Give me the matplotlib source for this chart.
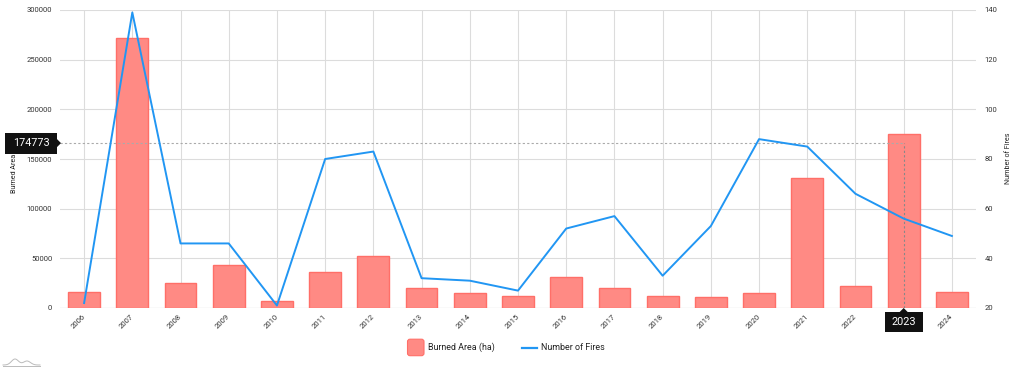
import matplotlib
matplotlib.use("Agg")
import matplotlib.pyplot as plt
import matplotlib.patches as mpatches
import numpy as np
from matplotlib.lines import Line2D

plt.rcParams['font.family'] = ['Roboto', 'DejaVu Sans']

years = ["2006", "2007", "2008", "2009", "2010", "2011", "2012", "2013", "2014", "2015",
         "2016", "2017", "2018", "2019", "2020", "2021", "2022", "2023", "2024"]
burned_area = [16400, 272000, 25200, 42800, 7000, 36000, 52300, 20100, 14800, 11800,
               31700, 20100, 12400, 11100, 15100, 130900, 22600, 174773, 16100]
num_fires = [22, 139, 46, 46, 21, 80, 83, 32, 31, 27,
             52, 57, 33, 53, 88, 85, 66, 56, 49]
cursor_value = 166000
cursor_label = "174773"
cursor_year = "2023"
series_labels = ["Burned Area (ha)", "Number of Fires"]

W, H = 1024, 372
fig = plt.figure(figsize=(W / 100, H / 100), dpi=100)
renderer = fig.canvas.get_renderer()


def fit_size(s, target_px):
    t = fig.text(0, 0, s, fontsize=10)
    w = t.get_window_extent(renderer).width
    t.remove()
    return 10 * target_px / w


fs_tick = fit_size("300000", 25.6)
fs_legend = fit_size(series_labels[0], 66.6)
fs_tip = fit_size(cursor_label, 36.7)
fs_title = fit_size(series_labels[1], 51)

PX = fig.dpi_scale_trans  # inches; 1 px = 0.01 in


def px(v):
    return v / 100.0


ax = fig.add_axes([60 / W, (H - 308) / H, 916 / W, 298 / H])
ax2 = ax.twinx()

x = np.arange(len(years))
grid_c = "#dcdcdc"
text_c = "#333333"
bar_c = "#ff8a84"
bar_e = "#ff6f68"
line_c = "#2196f3"

ax.bar(x, burned_area, width=0.66, color=bar_c, edgecolor=bar_e, linewidth=1.0, zorder=3)
ax.set_xlim(-0.5, len(years) - 0.5)
ax.set_ylim(0, 300000)
ax.set_yticks(np.arange(0, 300001, 50000))
ax.set_xticks(x)
ax.set_xticklabels(years, rotation=45, ha="right", va="center", rotation_mode="anchor")
ax.grid(True, axis="both", color=grid_c, linewidth=0.8, zorder=0)
ax.set_axisbelow(True)

ax2.plot(x, num_fires, color=line_c, linewidth=1.4, zorder=4)
ax2.set_ylim(20, 140)
ax2.set_yticks(np.arange(20, 141, 20))

for a in (ax, ax2):
    for s in a.spines.values():
        s.set_visible(False)
    a.tick_params(axis="both", length=0, labelsize=fs_tick, colors=text_c)
ax.tick_params(axis="y", pad=5.5)
ax.tick_params(axis="x", pad=5.5)
ax2.tick_params(axis="y", pad=6)
ax.axhline(0, color="#bbbbbb", linewidth=0.8, zorder=2)

# axis titles
fig.text(14.5 / W, (H - 166) / H, series_labels[0], rotation=90, ha="center", va="center",
         fontsize=fs_title, color="#222222")
fig.text(1009 / W, (H - 158) / H, series_labels[1], rotation=90, ha="center", va="center",
         fontsize=fs_title, color="#222222")

# cursor
xi = years.index(cursor_year)
ax.plot([-0.5, xi], [cursor_value, cursor_value], color="#aaaaaa", linestyle=(0, (2, 2)),
        linewidth=0.8, zorder=5)
ax.plot([xi, xi], [0, cursor_value], color="#888888", linestyle=(0, (2, 2)),
        linewidth=0.8, zorder=5)

# tooltip on value axis
cy = ax.transData.transform((0, cursor_value))[1]
fig.add_artist(mpatches.Rectangle((px(5), px(cy - 10.5)), px(52), px(21), transform=PX,
                                  facecolor="#111111", edgecolor="none", zorder=10))
fig.add_artist(mpatches.Polygon([(px(57), px(cy - 4)), (px(61), px(cy)), (px(57), px(cy + 4))],
                                closed=True, transform=PX, facecolor="#111111",
                                edgecolor="none", zorder=10))
fig.text(31 / W, cy / H, cursor_label, ha="center", va="center", fontsize=fs_tip,
         color="white", zorder=11)

# tooltip on category axis
cx = ax.transData.transform((xi, 0))[0]
fig.add_artist(mpatches.Rectangle((px(cx - 19), px(H - 332)), px(38), px(20), transform=PX,
                                  facecolor="#111111", edgecolor="none", zorder=10))
fig.add_artist(mpatches.Polygon([(px(cx - 4), px(H - 312)), (px(cx), px(H - 308)),
                                 (px(cx + 4), px(H - 312))], closed=True, transform=PX,
                                facecolor="#111111", edgecolor="none", zorder=10))
fig.text(cx / W, (H - 322) / H, cursor_year, ha="center", va="center", fontsize=fs_tip,
         color="white", zorder=11)

# legend (drawn manually)
ly = H - 347.5
fig.add_artist(mpatches.FancyBboxPatch((px(407.5), px(ly - 8.2)), px(16.5), px(16.5),
                                       boxstyle="round,pad=0,rounding_size=0.025",
                                       transform=PX, facecolor=bar_c, edgecolor=bar_e,
                                       linewidth=0.8))
fig.text(428 / W, ly / H, series_labels[0], ha="left", va="center", fontsize=fs_legend,
         color="#222222")
fig.add_artist(Line2D([522 / W, 537 / W], [ly / H, ly / H], color=line_c, linewidth=1.6))
fig.text(541 / W, ly / H, series_labels[1], ha="left", va="center", fontsize=fs_legend,
         color="#222222")

# small logo
lx = np.linspace(3, 40, 60)
lyy = 365 - 6 * np.exp(-((lx - 15) / 5) ** 2) - 4 * np.exp(-((lx - 27) / 5) ** 2)
fig.add_artist(Line2D(lx / W, (H - lyy) / H, color="#bbbbbb", linewidth=0.7))
fig.add_artist(Line2D([3 / W, 40 / W], [(H - 366) / H] * 2, color="#bbbbbb", linewidth=0.7))

fig.savefig("out.png", dpi=100)
